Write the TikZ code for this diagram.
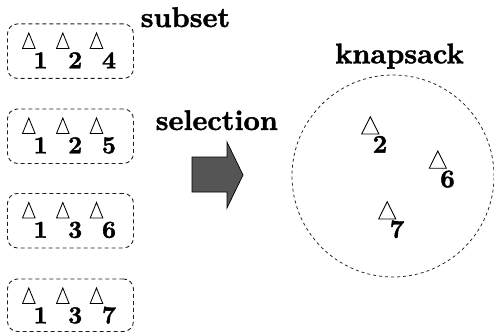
\documentclass[tikz,border=0pt]{standalone}
\usepackage{fontspec}
\newfontfamily\heavyfont{lmroman10-bold}[Extension=.otf, FakeBold=1.6]
\definecolor{arrowgray}{RGB}{85,85,85}
\definecolor{dashgray}{RGB}{30,30,30}
\tikzset{
  setbox/.style={draw=dashgray, dash pattern=on 4pt off 3pt, line width=0.9pt,
    rounded corners=10pt, minimum width=126pt, inner sep=0pt, anchor=north west},
  bag/.style={draw=dashgray, dash pattern=on 3pt off 3pt, line width=0.75pt,
    circle, minimum size=202pt, inner sep=0pt},
  numlabel/.style={font=\fontsize{24.5}{25}\heavyfont, inner sep=0pt, anchor=base},
  bignum/.style={font=\fontsize{25.5}{26}\heavyfont, inner sep=0pt, anchor=base},
  title/.style={font=\fontsize{28.3}{30}\heavyfont, inner sep=0pt, anchor=base west},
  selarrow/.style={draw=black, fill=arrowgray, line width=0.7pt, line join=miter},
  smalltri/.pic={\draw[line width=0.85pt] (-6.3,0) -- (0,-15.5) -- (6.3,0) -- cycle;},
  bigtri/.pic={\draw[line width=0.85pt] (-8.6,0) -- (0,-17.3) -- (8.6,0) -- cycle;},
}
\begin{document}
\begin{tikzpicture}[x=1pt,y=-1pt]
\useasboundingbox (0,0) rectangle (494,334);

% the four candidate subsets: top edge / height / the three item numbers
\foreach \k/\T/\H/\a/\b/\c in {0/23.5/54.5/1/2/4, 1/108.5/54.5/1/2/5,
                               2/193/54.5/1/3/6, 3/278.5/52.5/1/3/7} {
  \node[setbox, minimum height=\H pt] (set\k) at (7,\T) {};
  \pic at (28.8,\T+25) {smalltri};
  \pic at (62.8,\T+25) {smalltri};
  \pic at (96.5,\T+25) {smalltri};
  \node[numlabel] (set\k a) at (40.5,\T+44.8) {\a};
  \node[numlabel] (set\k b) at (75.2,\T+44.8) {\b};
  \node[numlabel] (set\k c) at (109,\T+44.8) {\c};
}

% labels
\node[title] (subsetlabel) at (140.5,27) {subset};
\node[title] (selectlabel) at (155.5,130) {selection};
\node[title] (sacklabel) at (335,63.3) {knapsack};

% selection arrow
\draw[selarrow] (192,157) -- (227,157) -- (227,142) -- (243,175)
  -- (227,208) -- (227,192) -- (192,192) -- cycle;

% knapsack with the chosen items
\node[bag] (sack) at (393,176) {};
\pic at (370.3,134) {bigtri};
\node[bignum] (item2) at (380,152.7) {2};
\pic at (437.8,168.3) {bigtri};
\node[bignum] (item6) at (447.5,187.3) {6};
\pic at (387.2,219) {bigtri};
\node[bignum] (item7) at (397,237.7) {7};
\end{tikzpicture}
\end{document}
